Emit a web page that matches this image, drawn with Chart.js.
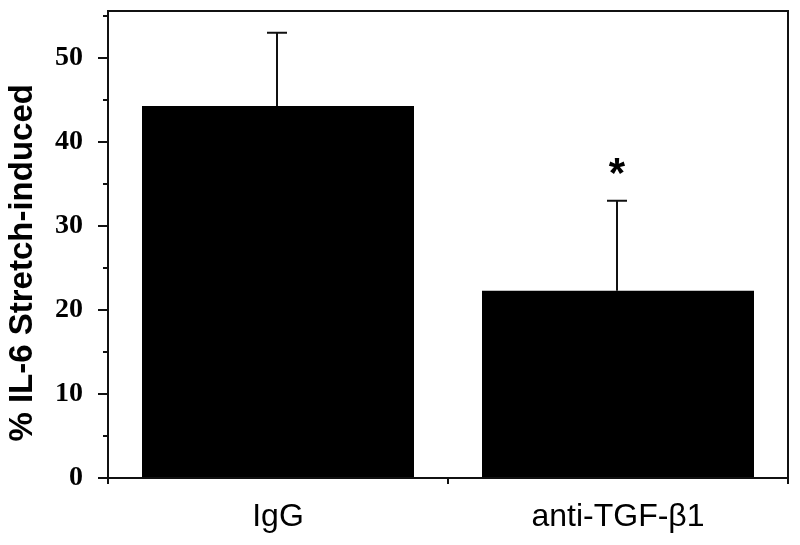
<!DOCTYPE html>
<html>
<head>
<meta charset="utf-8">
<script src="https://cdn.jsdelivr.net/npm/chart.js@4.4.1/dist/chart.umd.min.js"></script>
<style>
  html, body { margin: 0; padding: 0; background: #fff; }
  #wrap { width: 800px; height: 545px; }
</style>
</head>
<body>
<div id="wrap"><canvas id="il6Chart"></canvas></div>
<script>
// data
var groups = ["IgG", "anti-TGF-\u03B21"];
var meanValues = [44.3, 22.3];
var errorValues = [8.7, 10.7];
var significant = [false, true];
var yTicks = [0, 10, 20, 30, 40, 50];
var yMinorTicks = [5, 15, 25, 35, 45, 55];

// error bars, frame, tick marks and the asterisk
var extrasPlugin = {
  id: "extras",
  afterDatasetsDraw: function (chart) {
    var ctx = chart.ctx;
    var area = chart.chartArea;
    var x = chart.scales.x;
    var y = chart.scales.y;
    var meta = chart.getDatasetMeta(0);

    ctx.save();
    ctx.strokeStyle = "#111";
    ctx.lineWidth = 2;

    // error bars (upper only)
    meta.data.forEach(function (bar, i) {
      var top = y.getPixelForValue(meanValues[i] + errorValues[i]);
      var base = y.getPixelForValue(meanValues[i]);
      var cx = bar.x - 1;
      ctx.beginPath();
      ctx.moveTo(cx, base);
      ctx.lineTo(cx, top);
      ctx.moveTo(cx - 10, top);
      ctx.lineTo(cx + 10, top);
      ctx.stroke();

      if (significant[i]) {
        ctx.fillStyle = "#000";
        ctx.font = "bold 42px 'Liberation Sans', Arial, sans-serif";
        ctx.textAlign = "center";
        ctx.textBaseline = "middle";
        ctx.fillText("*", cx, top - 25);
      }
    });

    // frame
    ctx.strokeRect(area.left, area.top, area.right - area.left, area.bottom - area.top);

    // y tick marks (outside)
    ctx.beginPath();
    yTicks.forEach(function (v) {
      var py = Math.round(y.getPixelForValue(v));
      ctx.moveTo(area.left - 10, py);
      ctx.lineTo(area.left, py);
    });
    yMinorTicks.forEach(function (v) {
      var py = Math.round(y.getPixelForValue(v));
      ctx.moveTo(area.left - 5, py);
      ctx.lineTo(area.left, py);
    });

    // x tick marks at category boundaries
    var half = (x.getPixelForValue(1) - x.getPixelForValue(0)) / 2;
    for (var i = 0; i <= groups.length; i++) {
      var px = x.getPixelForValue(0) - half + i * half * 2;
      ctx.moveTo(px, area.bottom);
      ctx.lineTo(px, area.bottom + 6);
    }
    ctx.stroke();
    ctx.restore();
  }
};

var il6Chart = new Chart(document.getElementById("il6Chart"), {
  type: "bar",
  data: {
    labels: groups,
    datasets: [{
      label: "% IL-6 Stretch-induced",
      data: meanValues,
      backgroundColor: "#000",
      borderWidth: 0,
      barPercentage: 0.8,
      categoryPercentage: 1.0
    }]
  },
  options: {
    responsive: true,
    maintainAspectRatio: false,
    animation: false,
    layout: { padding: { top: 11, right: 12, left: 0, bottom: 0 } },
    plugins: {
      legend: { display: false },
      tooltip: { enabled: false }
    },
    scales: {
      x: {
        grid: { display: false },
        border: { display: false },
        ticks: {
          color: "#000",
          padding: 12,
          font: { family: "'Liberation Sans', Arial, sans-serif", size: 32 }
        },
        afterFit: function (scale) { scale.height = 67; }
      },
      y: {
        min: 0,
        max: 55.6,
        afterBuildTicks: function (scale) {
          scale.ticks = yTicks.map(function (v) { return { value: v }; });
        },
        grid: { display: false, drawTicks: false },
        border: { display: false },
        ticks: {
          color: "#000",
          padding: 25,
          font: { family: "'Liberation Serif', 'Times New Roman', serif", size: 28, weight: "bold" }
        },
        title: {
          display: true,
          text: "% IL-6 Stretch-induced    ",
          color: "#000",
          padding: { top: 3, bottom: 0 },
          font: { family: "'Liberation Sans', Arial, sans-serif", size: 33, weight: "bold" }
        },
        afterFit: function (scale) {
          scale.width = 108;
          scale.paddingTop = 0;
          scale.paddingBottom = 0;
        }
      }
    }
  },
  plugins: [extrasPlugin]
});
</script>
</body>
</html>
